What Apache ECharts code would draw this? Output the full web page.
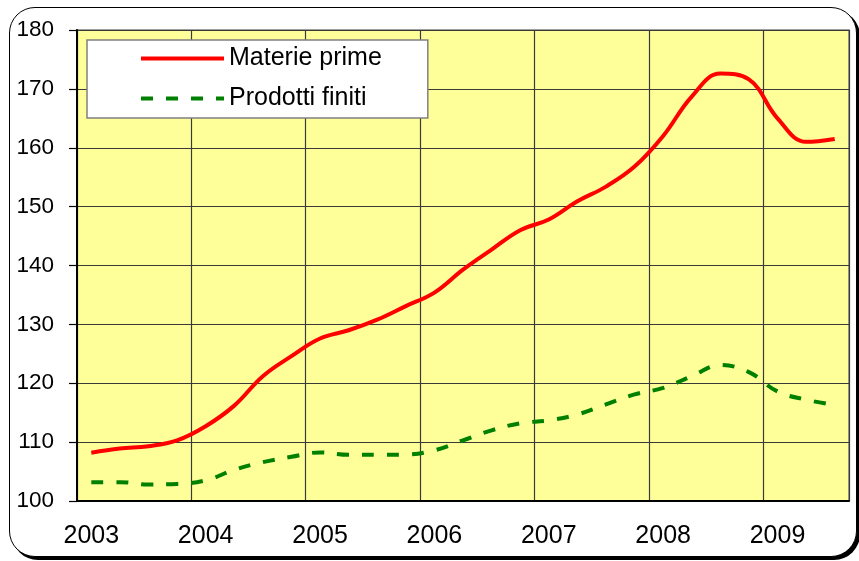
<!DOCTYPE html>
<html>
<head>
<meta charset="utf-8">
<script src="https://cdn.jsdelivr.net/npm/echarts@6/dist/echarts.min.js"></script>
<style>
  html, body { margin: 0; padding: 0; background: #ffffff; }
  #wrap { position: relative; width: 859px; height: 561px; overflow: hidden; }
  #frame {
    position: absolute; left: 9px; top: 7px; width: 846px; height: 548px;
    border: 1.5px solid #000; border-radius: 26px;
    box-shadow: 3px 3px 0 #000; background: #fff;
  }
  #chart { position: absolute; left: 0; top: 0; width: 859px; height: 561px; }
</style>
</head>
<body>
<div id="wrap">
  <div id="frame"></div>
  <div id="chart"></div>
</div>
<script>
// Years shown on the horizontal axis (2009 covers only three quarters)
const years = ['2003', '2004', '2005', '2006', '2007', '2008', '2009'];
const quartersPerYear = [4, 4, 4, 4, 4, 4, 3];

// Quarterly index values
const materiePrime = [108.2, 108.9, 109.3, 110.3, 112.7, 116.2, 121.2, 124.6, 127.6, 129.0,
  130.8, 133.1, 135.4, 139.3, 142.7, 146.0, 147.8, 150.9, 153.4, 156.8,
  162.0, 168.7, 172.6, 171.6, 165.0, 161.0, 161.5];
const prodottiFiniti = [103.2, 103.2, 102.8, 102.9, 103.5, 105.3, 106.6, 107.5, 108.25, 107.85,
  107.85, 107.9, 108.6, 110.3, 112.0, 113.2, 113.7, 114.7, 116.4, 118.1,
  119.2, 121.2, 123.1, 121.9, 118.6, 117.2, 116.3];

// Y-axis tick values
const yTicks = { min: 100, max: 180, step: 10 };

// One category per quarter, e.g. "2003-T1"
const quarters = [];
years.forEach((y, i) => {
  for (let q = 1; q <= quartersPerYear[i]; q++) quarters.push(y + '-T' + q);
});

const chart = echarts.init(document.getElementById('chart'), null, { renderer: 'canvas' });
const font = '"Liberation Sans", Arial, sans-serif';

chart.setOption({
  animation: false,
  grid: {
    left: 77, top: 30, width: 772, height: 471,
    show: true, backgroundColor: '#FFFF99',
    borderColor: '#808080', borderWidth: 1.5
  },
  legend: {
    orient: 'vertical',
    left: 87, top: 40,
    width: 342,
    padding: [6, 46, 7, 52],
    itemGap: 15,
    itemWidth: 83,
    itemHeight: 24,
    backgroundColor: '#ffffff',
    borderColor: '#808080',
    borderWidth: 1.5,
    lineStyle: { width: 4 },
    itemStyle: { opacity: 0 },
    textStyle: { fontFamily: font, fontSize: 25, color: '#000' },
    data: ['Materie prime', 'Prodotti finiti']
  },
  xAxis: {
    type: 'category',
    data: quarters,
    boundaryGap: true,
    axisLine: { show: true, lineStyle: { color: '#000', width: 2 } },
    axisTick: { show: false, interval: 3 },
    splitLine: { show: true, interval: 3, lineStyle: { color: '#3a3a3a', width: 1.2 } },
    axisLabel: {
      interval: 3,
      margin: 23,
      fontFamily: font, fontSize: 25, color: '#000',
      formatter: v => v.split('-')[0]
    }
  },
  yAxis: {
    type: 'value',
    min: yTicks.min, max: yTicks.max, interval: yTicks.step,
    axisLine: { show: true, lineStyle: { color: '#000', width: 2 } },
    axisTick: { show: true, length: 8, lineStyle: { color: '#000', width: 1.2 } },
    splitLine: { show: true, lineStyle: { color: '#3a3a3a', width: 1.2 } },
    axisLabel: { margin: 23, fontFamily: font, fontSize: 22.5, color: '#000' }
  },
  series: [
    {
      name: 'Materie prime',
      type: 'line',
      data: materiePrime,
      smooth: 0.4,
      symbol: 'none',
      lineStyle: { color: '#FF0000', width: 4 },
      itemStyle: { color: '#FF0000' },
      z: 3
    },
    {
      name: 'Prodotti finiti',
      type: 'line',
      data: prodottiFiniti,
      smooth: 0.4,
      symbol: 'none',
      lineStyle: { color: '#008000', width: 4, type: [12, 13] },
      itemStyle: { color: '#008000' },
      z: 3
    }
  ]
});
</script>
</body>
</html>
